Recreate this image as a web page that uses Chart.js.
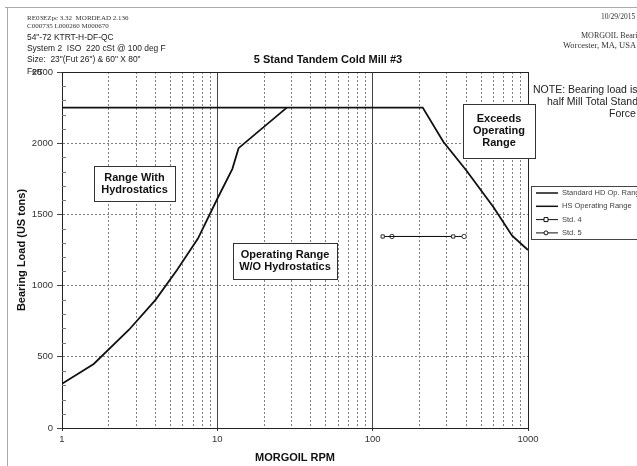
<!DOCTYPE html>
<html>
<head>
<meta charset="utf-8">
<script src="https://cdn.jsdelivr.net/npm/chart.js@4.4.1/dist/chart.umd.min.js"></script>
<style>
  html, body { margin:0; padding:0; background:#fff; }
  canvas { display:block; }
</style>
</head>
<body>
<canvas id="c" width="637" height="466"></canvas>
<script>
// values (rpm vs US tons)
const hdRpm    = [1, 1.6, 2.7, 4, 5.5, 7.5, 10, 12.5, 13.7, 28];
const hdLoad   = [310, 450, 690, 900, 1110, 1330, 1610, 1820, 1965, 2250];
const hsRpm    = [1, 210, 285, 400, 600, 790, 1000];
const hsLoad   = [2250, 2250, 2010, 1810, 1550, 1350, 1250];
const std4Rpm  = [116, 330];
const std4Load = [1345, 1345];
const std5Rpm  = [133, 388];
const std5Load = [1345, 1345];

const seriesNames = ['Standard HD Op. Range', 'HS Operating Range', 'Std. 4', 'Std. 5'];

const xTickVals = [1,2,3,4,5,6,7,8,9,10,20,30,40,50,60,70,80,90,100,200,300,400,500,600,700,800,900,1000];
const xLabels   = [1, 10, 100, 1000];
const yLabels   = [0, 500, 1000, 1500, 2000, 2500];

const headerLines = ['RE03EZpc 3.32  MORDEAD 2.136', 'C000735 L000260 M000670'];
const infoLines   = ['54"-72 KTRT-H-DF-QC', 'System 2  ISO  220 cSt @ 100 deg F', 'Size:  23"(Fut 26") & 60" X 80"', 'Ferr'];
const noteLines   = ['NOTE: Bearing load is', 'half Mill Total Stand', 'Force'];

const SANS = '"Liberation Sans", Arial, sans-serif';
const SERIF = '"Liberation Serif", "Times New Roman", serif';

function pts(xs, ys) { return xs.map((x, i) => ({ x: x, y: ys[i] })); }

function box(ctx, x, y, w, h, lines, cx, ly) {
  ctx.fillStyle = '#fff';
  ctx.fillRect(x, y, w, h);
  ctx.strokeStyle = '#333';
  ctx.lineWidth = 1;
  ctx.strokeRect(x + 0.5, y + 0.5, w, h);
  ctx.fillStyle = '#111';
  ctx.font = 'bold 11px ' + SANS;
  ctx.textAlign = 'center';
  ctx.textBaseline = 'middle';
  lines.forEach((t, i) => ctx.fillText(t, cx, ly + i * 12.3));
}

const decor = {
  id: 'decor',
  beforeDraw(chart) {
    const ctx = chart.ctx;
    ctx.save();
    ctx.fillStyle = '#fff';
    ctx.fillRect(0, 0, chart.width, chart.height);
    // page frame
    ctx.strokeStyle = '#aaa';
    ctx.lineWidth = 1;
    ctx.beginPath();
    ctx.moveTo(5, 7.5); ctx.lineTo(637, 7.5);
    ctx.moveTo(7.5, 7); ctx.lineTo(7.5, 466);
    ctx.stroke();
    ctx.restore();
  },
  afterDraw(chart) {
    const ctx = chart.ctx;
    const a = chart.chartArea;
    const ys = chart.scales.y;
    ctx.save();

    // frame top/right
    ctx.strokeStyle = '#222';
    ctx.lineWidth = 1;
    ctx.beginPath();
    ctx.moveTo(a.left, Math.round(a.top) + 0.5); ctx.lineTo(a.right, Math.round(a.top) + 0.5);
    ctx.moveTo(Math.round(a.right) + 0.5, a.top); ctx.lineTo(Math.round(a.right) + 0.5, a.bottom);
    ctx.stroke();

    // minor y ticks inside axis
    ctx.strokeStyle = '#777';
    ctx.beginPath();
    for (let v = 100; v < 2500; v += 100) {
      if (v % 500 === 0) continue;
      const py = Math.round(ys.getPixelForValue(v)) + 0.5;
      ctx.moveTo(a.left, py); ctx.lineTo(a.left + 4, py);
    }
    ctx.stroke();

    // header texts
    ctx.textAlign = 'left';
    ctx.textBaseline = 'middle';
    ctx.fillStyle = '#333';
    ctx.font = '7px ' + SERIF;
    ctx.fillText(headerLines[0], 27, 18);
    ctx.fillText(headerLines[1], 27, 26.5);
    ctx.font = '9.8px ' + SANS;
    ctx.fillStyle = '#222';
    infoLines.forEach((t, i) => {
      ctx.save();
      ctx.translate(27, 37 + i * 11.3);
      ctx.scale(0.86, 1);
      ctx.fillText(t, 0, 0);
      ctx.restore();
    });

    ctx.font = '7.5px ' + SERIF;
    ctx.fillStyle = '#333';
    ctx.fillText('10/29/2015', 601, 17);
    ctx.font = '8px ' + SERIF;
    ctx.fillText('MORGOIL Bearings', 581, 35.5);
    ctx.font = '8.5px ' + SERIF;
    ctx.fillText('Worcester, MA, USA', 563, 45.5);

    // title
    ctx.font = 'bold 11px ' + SANS;
    ctx.fillStyle = '#111';
    ctx.textAlign = 'center';
    ctx.fillText('5 Stand Tandem Cold Mill #3', 328, 60);

    // note
    ctx.textAlign = 'left';
    ctx.font = '10.5px ' + SANS;
    ctx.fillStyle = '#222';
    ctx.fillText(noteLines[0], 533, 90);
    ctx.fillText(noteLines[1], 547, 102);
    ctx.fillText(noteLines[2], 609, 114);

    // region labels
    box(ctx, 94, 166, 81, 35, ['Range With', 'Hydrostatics'], 134.5, 177.5);
    box(ctx, 233, 243, 104, 36, ['Operating Range', 'W/O Hydrostatics'], 285, 255);
    box(ctx, 463, 104, 72, 54, ['Exceeds', 'Operating', 'Range'], 499, 118.5);

    // legend
    ctx.fillStyle = '#fff';
    ctx.fillRect(531, 186, 120, 53);
    ctx.strokeStyle = '#444';
    ctx.strokeRect(531.5, 186.5, 120, 53);
    ctx.font = '7.5px ' + SANS;
    chart.data.datasets.forEach((ds, i) => {
      const ly = 193 + i * 13.3;
      ctx.strokeStyle = '#111';
      ctx.lineWidth = ds.pointRadius ? 1 : 1.5;
      ctx.beginPath();
      ctx.moveTo(536, ly); ctx.lineTo(558, ly);
      ctx.stroke();
      if (ds.pointRadius) {
        ctx.fillStyle = '#fff';
        ctx.lineWidth = 1;
        ctx.beginPath();
        if (ds.pointStyle === 'rect') {
          ctx.rect(544, ly - 2, 4, 4);
        } else {
          ctx.arc(546, ly, 2, 0, Math.PI * 2);
        }
        ctx.fill(); ctx.stroke();
      }
      ctx.fillStyle = '#444';
      ctx.textAlign = 'left';
      ctx.fillText(ds.label, 562, ly);
    });

    ctx.restore();
  }
};

new Chart(document.getElementById('c'), {
  type: 'line',
  data: {
    datasets: [
      { label: seriesNames[0], data: pts(hdRpm, hdLoad), borderColor: '#111', borderWidth: 1.8, pointRadius: 0, tension: 0 },
      { label: seriesNames[1], data: pts(hsRpm, hsLoad), borderColor: '#111', borderWidth: 1.8, pointRadius: 0, tension: 0 },
      { label: seriesNames[2], data: pts(std4Rpm, std4Load), borderColor: '#111', borderWidth: 1, pointStyle: 'rect', pointRadius: 2.3, pointBackgroundColor: '#fff', pointBorderColor: '#333', pointBorderWidth: 1 },
      { label: seriesNames[3], data: pts(std5Rpm, std5Load), borderColor: '#111', borderWidth: 1, pointStyle: 'circle', pointRadius: 2.2, pointBackgroundColor: '#fff', pointBorderColor: '#333', pointBorderWidth: 1 }
    ]
  },
  options: {
    responsive: false,
    animation: false,
    devicePixelRatio: 1,
    layout: { padding: { left: 0, top: 72, right: 109, bottom: 0 } },
    plugins: { legend: { display: false }, tooltip: { enabled: false }, title: { display: false } },
    scales: {
      x: {
        type: 'logarithmic',
        min: 1,
        max: 1000,
        afterBuildTicks: s => { s.ticks = xTickVals.map(v => ({ value: v })); },
        afterFit: s => { s.height = 38; },
        ticks: {
          autoSkip: false,
          maxRotation: 0,
          padding: 3,
          color: '#333',
          font: { family: SANS, size: 9.5 },
          callback: v => xLabels.includes(v) ? String(v) : ''
        },
        grid: {
          color: c => xLabels.includes(c.tick && c.tick.value) ? '#444' : '#808080',
          lineWidth: 1,
          tickLength: 3,
          tickColor: c => xLabels.includes(c.tick && c.tick.value) ? '#333' : 'rgba(0,0,0,0)'
        },
        border: {
          color: '#222',
          width: 1,
          dash: c => (c.tick && !xLabels.includes(c.tick.value)) ? [2, 2] : []
        },
        title: {
          display: true,
          text: 'MORGOIL RPM',
          color: '#111',
          font: { family: SANS, size: 11, weight: 'bold' },
          padding: { top: 0, bottom: 1 }
        }
      },
      y: {
        min: 0,
        max: 2500,
        afterFit: s => { s.width = 62; },
        ticks: {
          stepSize: 100,
          autoSkip: false,
          padding: 4,
          color: '#333',
          font: { family: SANS, size: 9.5 },
          callback: v => yLabels.includes(v) ? String(v) : ''
        },
        grid: {
          color: c => !c.tick ? '#222' : (c.tick.value === 2500 ? '#222' : (c.tick.value % 500 === 0 ? '#808080' : 'rgba(0,0,0,0)')),
          lineWidth: 1,
          tickLength: 5,
          tickColor: c => (c.tick && c.tick.value % 500 === 0) ? '#444' : 'rgba(0,0,0,0)'
        },
        border: {
          color: '#222',
          width: 1,
          dash: c => (c.tick && c.tick.value % 500 === 0 && c.tick.value !== 0 && c.tick.value !== 2500) ? [2, 2] : []
        },
        title: {
          display: true,
          text: 'Bearing Load (US tons)',
          color: '#111',
          font: { family: SANS, size: 11, weight: 'bold' },
          padding: { top: 15 }
        }
      }
    }
  },
  plugins: [decor]
});
</script>
</body>
</html>
